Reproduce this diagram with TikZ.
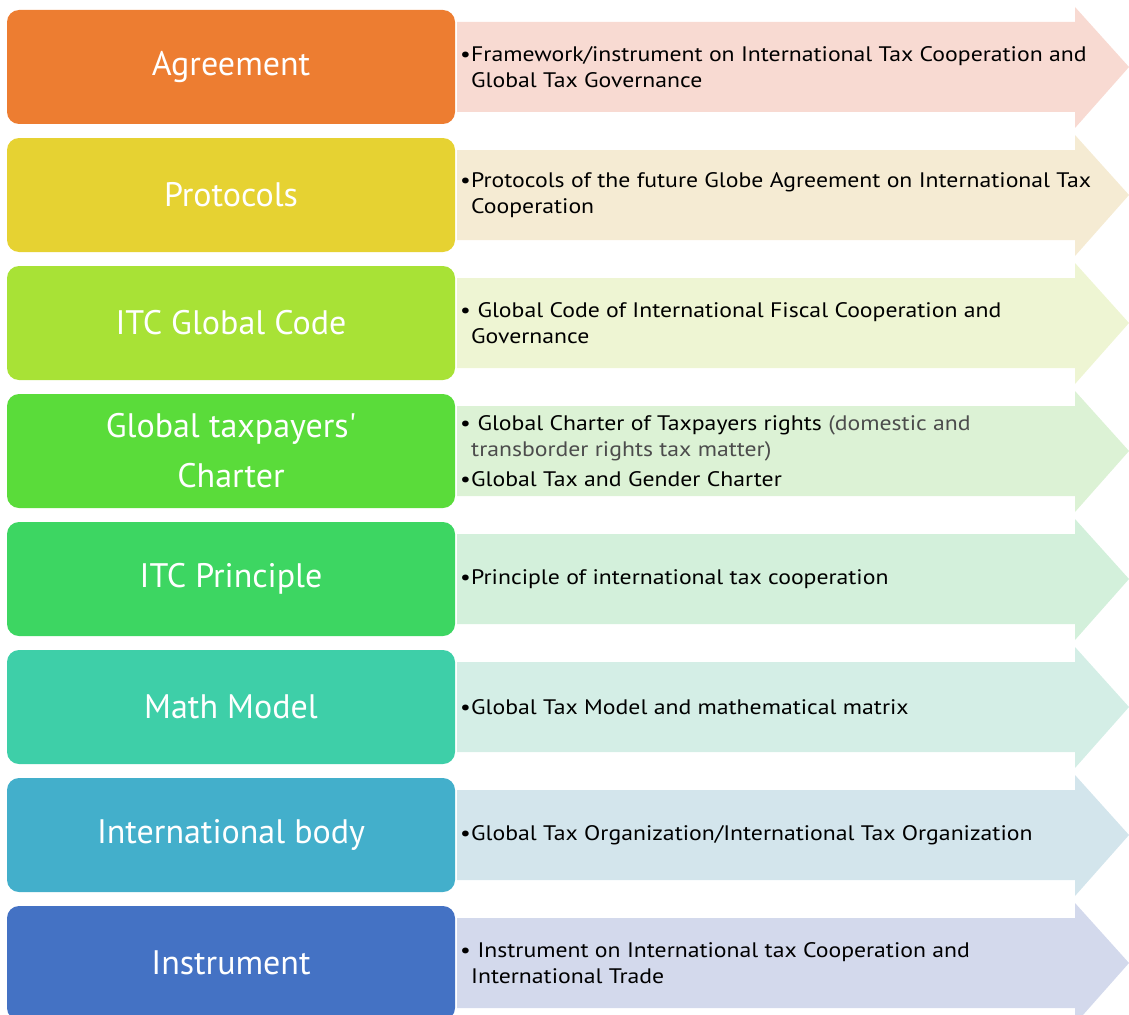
\documentclass[tikz,border=0pt]{standalone}
\usepackage{fontspec}
\setmainfont{PT Sans}
\newfontfamily\infofont[FakeStretch=1.13]{PT Sans}
\usetikzlibrary{positioning}

\definecolor{agreeC}{HTML}{ED7D31}
\definecolor{protoC}{HTML}{E6D232}
\definecolor{codeC}{HTML}{A8E236}
\definecolor{charterC}{HTML}{5ADC3A}
\definecolor{princC}{HTML}{3DD662}
\definecolor{mathC}{HTML}{3ECFA8}
\definecolor{bodyC}{HTML}{43AFCB}
\definecolor{instrC}{HTML}{4472C4}
\definecolor{agreeL}{HTML}{F8DAD2}
\definecolor{protoL}{HTML}{F5EBD3}
\definecolor{codeL}{HTML}{EEF5D3}
\definecolor{charterL}{HTML}{DCF2D5}
\definecolor{princL}{HTML}{D3F0DB}
\definecolor{mathL}{HTML}{D4EEE6}
\definecolor{bodyL}{HTML}{D3E5EC}
\definecolor{instrL}{HTML}{D3D9EC}

% bullet with hanging indent
\newcommand{\bul}{\makebox[11pt][l]{\textbullet}}
\newcommand{\hang}{\hspace*{11pt}}

% arrow band behind the text: #1 = top of row, #2 = colour
\newcommand{\band}[2]{%
  \fill[#2] (457,#1+12) -- (1075,#1+12) -- (1075,#1-3) -- (1129,#1+57)
    -- (1075,#1+118) -- (1075,#1+102) -- (457,#1+102) -- cycle;}

\tikzset{
  titlebox/.style={rounded corners=12pt, fill=#1, text=white, inner sep=0pt,
    minimum width=448pt, minimum height=114pt, align=center,
    font=\fontsize{34}{50}\selectfont},
  info/.style={anchor=west, align=left, inner sep=0pt,
    font=\infofont\fontsize{21}{26}\selectfont},
}

\begin{document}
\begin{tikzpicture}[x=1pt,y=-1pt]
      \useasboundingbox (0,0) rectangle (1129,1014);
      % bands
      \band{10}{agreeL}
      \band{138}{protoL}
      \band{266}{codeL}
      \band{394}{charterL}
      \band{522}{princL}
      \band{650}{mathL}
      \band{778}{bodyL}
      \band{906}{instrL}
      % left boxes
      \node[titlebox=agreeC] (agreement) at (231,67) {Agreement};
      \node[titlebox=protoC] (protocols) at (231,195) {Protocols};
      \node[titlebox=codeC] (code) at (231,323) {ITC Global Code};
      \node[titlebox=charterC] (charter) at (231,451) {Global taxpayers\textquotesingle\\Charter};
      \node[titlebox=princC] (principle) at (231,579) {ITC Principle};
      \node[titlebox=mathC] (model) at (231,707) {Math Model};
      \node[titlebox=bodyC] (body) at (231,835) {International body};
      \node[titlebox=instrC] (instrument) at (231,963) {Instrument};
      % texts in the bands
      \node[info] (agreementtxt) at (460,67) {\bul Framework/instrument on International Tax Cooperation and\\
        \hang Global Tax Governance};
      \node[info] (protocolstxt) at (460,195) {\bul Protocols of the future Globe Agreement on International Tax\\
        \hang Cooperation};
      \node[info] (codetxt) at (460,323) {\bul\ Global Code of International Fiscal Cooperation and\\
        \hang Governance};
      \node[info] (chartertxt) at (460,451) {\bul\ Global Charter of Taxpayers rights {\color{black!70}(domestic and}\\
        \hang{\color{black!70}transborder rights tax matter)}\\[4pt]
        \bul Global Tax and Gender Charter};
      \node[info] (principletxt) at (460,579) {\bul Principle of international tax cooperation};
      \node[info] (modeltxt) at (460,707) {\bul Global Tax Model and mathematical matrix};
      \node[info] (bodytxt) at (460,835) {\bul Global Tax Organization/International Tax Organization};
      \node[info] (instrumenttxt) at (460,963) {\bul\ Instrument on International tax Cooperation and\\
        \hang International Trade};
    \end{tikzpicture}
\end{document}
